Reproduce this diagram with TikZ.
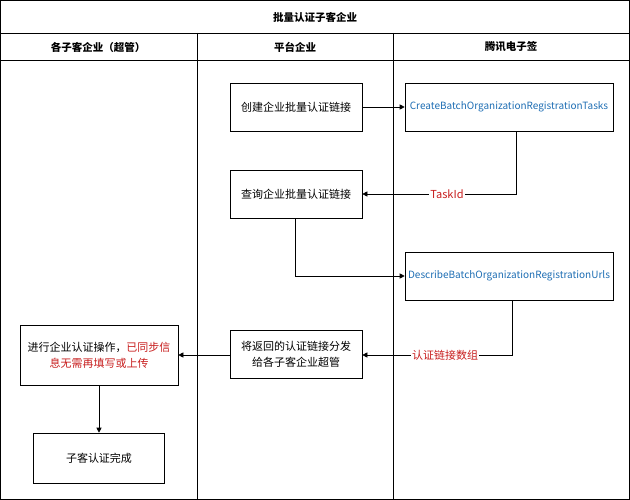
\documentclass[tikz,border=0pt]{standalone}
\usepackage{fontspec}
\setmainfont{Noto Sans CJK SC}
\usetikzlibrary{arrows.meta}
\definecolor{apiblue}{RGB}{30,110,180}
\definecolor{notered}{RGB}{200,30,30}
\tikzset{
  stepbox/.style={draw, line width=0.6pt, fill=white, align=center, font=\fontsize{11pt}{16pt}\selectfont, inner sep=2pt},
  apibox/.style={stepbox, text=apiblue, font=\fontsize{10pt}{12pt}\selectfont},
  flow/.style={draw, line width=0.6pt, -{Triangle[length=5pt,width=5pt]}},
  note/.style={text=notered, fill=white, font=\fontsize{11pt}{12pt}\selectfont, inner sep=1pt},
  lane/.style={font=\fontsize{10.5pt}{10.5pt}\selectfont\bfseries}
}
\begin{document}
\begin{tikzpicture}[x=1pt,y=-1pt]
  \useasboundingbox (0,0) rectangle (630,500);
  % lanes
  \draw [line width=0.6pt] (0.5,0.5) rectangle (629.5,499.5);
  \draw [line width=0.6pt] (0,33) -- (630,33);
  \draw [line width=0.6pt] (0,60) -- (630,60);
  \draw [line width=0.6pt] (197,33) -- (197,500);
  \draw [line width=0.6pt] (393,33) -- (393,500);
  \node [lane] (title) at (315,17) {批量认证子客企业};
  \node [lane] (laneA) at (98,47) {各子客企业（超管）};
  \node [lane] (laneB) at (295,47) {平台企业};
  \node [lane] (laneC) at (511,47) {腾讯电子签};
  % platform steps
  \node [stepbox, minimum width=132pt, minimum height=48pt] (create) at (296,107) {创建企业批量认证链接};
  \node [stepbox, minimum width=132pt, minimum height=48pt] (query) at (296,194) {查询企业批量认证链接};
  \node [stepbox, minimum width=132pt, minimum height=48pt] (send) at (296,354) {将返回的认证链接分发\\给各子客企业超管};
  % api steps
  \node [apibox, minimum width=208pt, minimum height=48pt] (createapi) at (509,107) {CreateBatchOrganizationRegistrationTasks};
  \node [apibox, minimum width=208pt, minimum height=48pt] (describeapi) at (509,276) {DescribeBatchOrganizationRegistrationUrls};
  % sub-customer steps
  \node [stepbox, minimum width=158pt, minimum height=60pt] (verify) at (99,355) {进行企业认证操作，\textcolor{notered}{已同步信}\\\textcolor{notered}{息无需再填写或上传}};
  \node [stepbox, minimum width=131pt, minimum height=50pt] (done) at (99,458) {子客认证完成};
  % connectors
  \coordinate (c1) at (516,194);
  \coordinate (c2) at (295,276);
  \coordinate (c3) at (512,355);
  \draw [flow] (createapi.south -| c1) -- (c1) -- (query.east);
  \draw [flow] (create) -- (createapi);
  \node [note] (taskid) at (447,194) {TaskId};
  \draw [flow] (query.south -| c2) -- (c2) -- (describeapi.west |- c2);
  \draw [flow] (describeapi.south -| c3) -- (c3) -- (send.east |- c3);
  \node [note] (urls) at (445,355) {认证链接数组};
  \draw [flow] (send.west |- c3) -- (verify.east |- c3);
  \draw [flow] (verify) -- (done);
\end{tikzpicture}
\end{document}
